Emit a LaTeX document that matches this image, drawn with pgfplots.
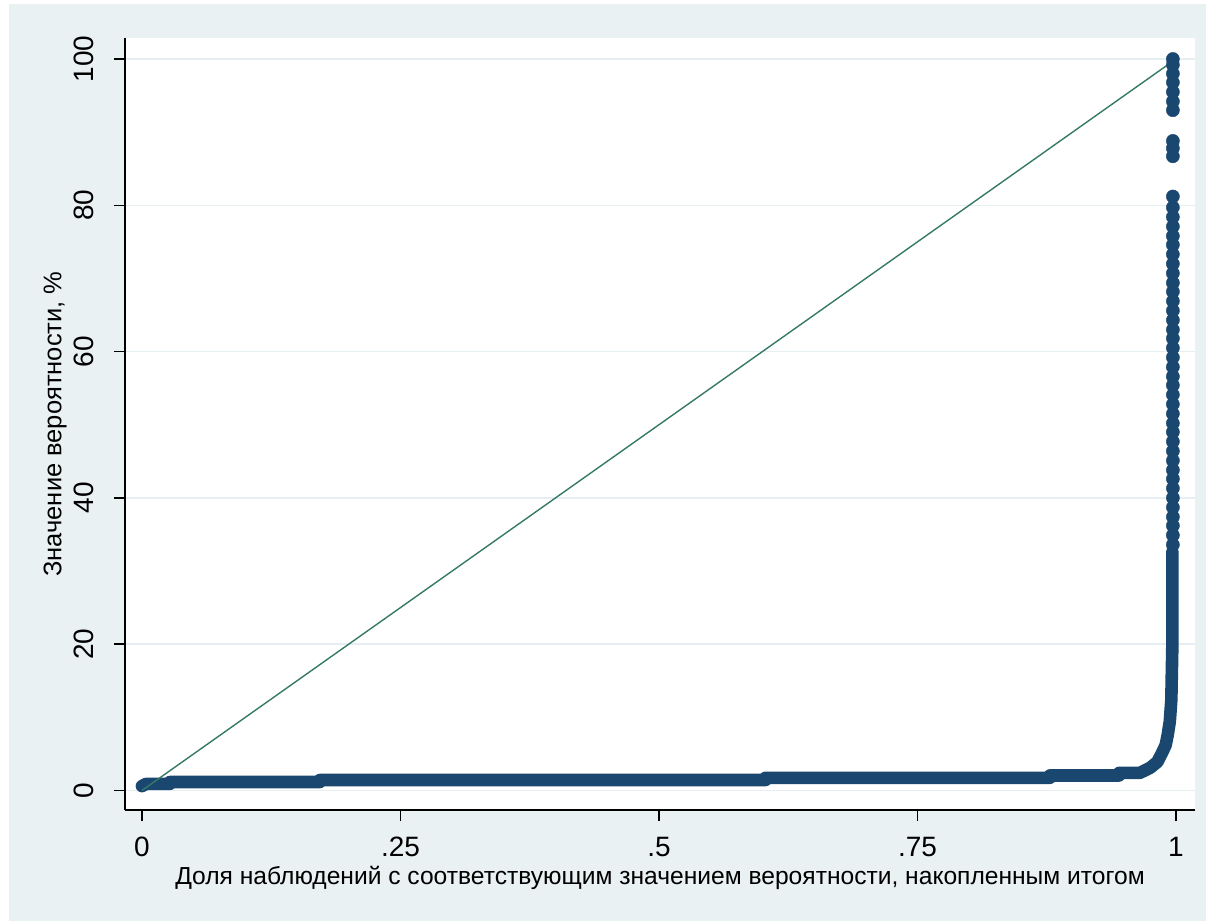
\documentclass[border=0pt]{standalone}
\usepackage{fontspec}
\setmainfont{Liberation Sans}
\usepackage{pgfplots}
\pgfplotsset{compat=1.18}
\definecolor{bgc}{HTML}{EAF1F3}
\definecolor{gridc}{HTML}{E6EEF1}
\definecolor{navyc}{HTML}{1A476F}
\definecolor{linec}{HTML}{357A66}
\begin{document}
\begin{tikzpicture}[x=1pt,y=1pt]
\useasboundingbox (0,0) rectangle (1206,921);
\fill[white] (0,0) rectangle (1206,921);
\fill[bgc] (9,0) rectangle (1206,917);
\begin{axis}[
  at={(125pt,111pt)}, anchor=south west,
  scale only axis, width=1070pt, height=772pt,
  xmin=-0.0164, xmax=1.0184, ymin=-2.67, ymax=102.87,
  axis background/.style={fill=white},
  axis x line*=bottom, axis y line*=left,
  axis line style={black, line width=1.6pt},
  xtick={0,0.25,0.5,0.75,1}, xticklabels={0,.25,.5,.75,1},
  ytick={0,20,40,60,80,100},
  tick style={black, line width=1.4pt},
  major tick length=11pt, tick align=outside,
  ymajorgrids, grid style={gridc, line width=1.5pt},
  /pgf/number format/assume math mode=true,
  tick label style={font=\fontsize{28}{30}\selectfont},
  yticklabel style={rotate=90, anchor=south, inner sep=0pt},
  xticklabel style={anchor=north, inner sep=0pt},
  xticklabel shift=16pt, yticklabel shift=20pt,
  xlabel={Доля наблюдений с соответствующим значением вероятности, накопленным итогом},
  xlabel style={font=\fontsize{24.6}{28}\selectfont, at={(axis description cs:0.5,0)}, anchor=north, yshift=-56pt, inner sep=0pt},
  ylabel={Значение вероятности, \%},
  ylabel style={font=\fontsize{25.5}{28}\selectfont, at={(axis description cs:0,0.5)}, anchor=center, yshift=70pt, inner sep=0pt},
]
\addplot[navyc, line width=12.6pt, line cap=round, line join=round] coordinates {
(0,0.6)(0.004,0.9)(0.027,0.9)(0.027,1.16)(0.172,1.16)(0.172,1.43)(0.603,1.43)(0.603,1.73)
(0.878,1.73)(0.878,2.05)(0.945,2.05)(0.945,2.4)(0.965,2.4)(0.975,3.1)(0.982,3.9)(0.986,5.0)
(0.990,6.2)(0.992,7.6)(0.994,9.4)(0.9955,12.4)(0.9965,20)(0.9965,32.6)};
\addplot[only marks, mark=*, mark size=6.6pt, mark options={fill=navyc, draw=navyc}] coordinates {
(0.997,33.6)(0.997,34.9)(0.997,36.2)(0.997,37.4)(0.997,38.7)(0.997,40.0)(0.997,41.3)(0.997,42.6)
(0.997,43.8)(0.997,45.1)(0.997,46.4)(0.997,47.7)(0.997,49.0)(0.997,50.2)(0.997,51.5)(0.997,52.8)
(0.997,54.1)(0.997,55.4)(0.997,56.6)(0.997,57.9)(0.997,59.2)(0.997,60.5)(0.997,61.8)(0.997,63.0)
(0.997,64.3)(0.997,65.6)(0.997,66.9)(0.997,68.2)(0.997,69.4)(0.997,70.7)(0.997,72.0)(0.997,73.3)
(0.997,74.6)(0.997,75.8)(0.997,77.1)(0.997,78.4)(0.997,79.7)(0.997,81.2)
(0.997,86.7)(0.997,87.8)(0.997,88.8)
(0.997,93.0)(0.997,94.2)(0.997,95.5)(0.997,96.8)(0.997,98.0)(0.997,99.2)(0.997,100.0)};
\addplot[linec, line width=1.4pt] coordinates {(0,0)(1,100)};
\end{axis}
\end{tikzpicture}
\end{document}
